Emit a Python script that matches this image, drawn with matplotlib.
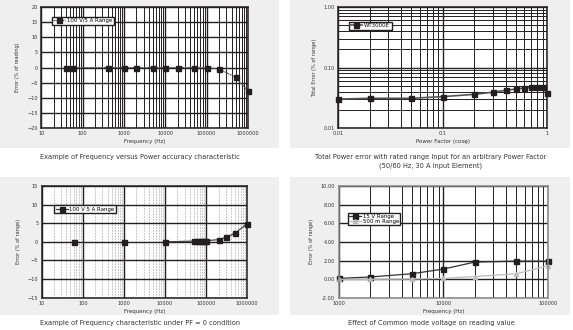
import matplotlib
matplotlib.use('Agg')
import matplotlib.pyplot as plt
from matplotlib.patches import Rectangle
from matplotlib.ticker import FixedLocator, NullFormatter, LogLocator

# --- data ---
freq_pw = [40, 60, 400, 1000, 2000, 5000, 10000, 20000, 50000, 100000, 200000, 500000, 1000000]
err_pw = [0, 0, 0, 0, 0, 0, 0, 0, 0, 0, -0.5, -3.2, -7.8]

pf = [0.01, 0.02, 0.05, 0.1, 0.2, 0.3, 0.4, 0.5, 0.6, 0.7, 0.8, 0.9, 1.0]
err_pf = [0.030, 0.031, 0.031, 0.033, 0.036, 0.039, 0.042, 0.044, 0.046, 0.047, 0.047, 0.047, 0.038]

freq_pf0 = [60, 1000, 10000, 50000, 60000, 70000, 80000, 90000, 100000, 200000, 300000, 500000, 1000000]
err_pf0 = [0, 0, 0, 0.2, 0.25, 0.3, 0.3, 0.3, 0.3, 0.6, 1.2, 2.3, 4.9]

freq_cm = [1000, 2000, 5000, 10000, 20000, 50000, 100000]
err_15v = [0.1, 0.25, 0.6, 1.1, 1.85, 1.95, 1.95]
err_500m = [0.0, 0.0, 0.03, 0.1, 0.3, 0.6, 1.45]

captions = ['Example of Frequency versus Power accuracy characteristic',
            'Total Power error with rated range Input for an arbitrary Power Factor\n(50/60 Hz, 30 A Input Element)',
            'Example of Frequency characteristic under PF = 0 condition',
            'Effect of Common mode voltage on reading value']

W, H = 573, 330
dark = '#231f20'
fs = 3.6
lfs = 3.9
cfs = 4.8
mk = dict(marker='s', ms=3.6, mfc=dark, mec=dark, clip_on=False)

fig = plt.figure(figsize=(W/100, H/100), dpi=100)
fig.patch.set_facecolor('white')

def box(x0, y0, x1, y1):
    fig.patches.append(Rectangle((x0/W, 1-y1/H), (x1-x0)/W, (y1-y0)/H,
                                 transform=fig.transFigure, facecolor='#efefef',
                                 edgecolor='none', zorder=-5))

def axes(x0, y0, x1, y1):
    ax = fig.add_axes([x0/W, 1-y1/H, (x1-x0)/W, (y1-y0)/H])
    ax.set_zorder(2)
    ax.set_facecolor('white')
    ax.tick_params(which='both', length=0, labelsize=fs, pad=2.5, colors='#333')
    for s in ax.spines.values():
        s.set_color(dark)
        s.set_linewidth(1.1)
    ax.set_axisbelow(True)
    return ax

box(0, 0, 279, 148)
box(290, 0, 570, 148)
box(0, 177, 279, 315)
box(290, 177, 570, 315)

dec_labels = ['10', '100', '1000', '10000', '100000', '1000000']
dec_vals = [10, 100, 1000, 10000, 100000, 1000000]

# panel 1
ax1 = axes(41.3, 7, 248, 128)
ax1.set_xscale('log')
ax1.set_xlim(10, 1000000)
ax1.set_ylim(-20, 20)
ax1.xaxis.set_major_locator(FixedLocator(dec_vals))
ax1.set_xticklabels(dec_labels)
ax1.xaxis.set_minor_locator(LogLocator(subs=range(2, 10)))
ax1.xaxis.set_minor_formatter(NullFormatter())
ax1.set_yticks(range(-20, 21, 5))
ax1.set_yticklabels([str(v).replace('-', '\u2212') for v in range(-20, 21, 5)])
ax1.grid(which='major', color=dark, lw=1.0)
ax1.grid(which='minor', axis='x', color=dark, lw=0.7)
ax1.plot(freq_pw, err_pw, color='#555', lw=0.8, ls=(0, (2, 0.6)), label='100 V/5 A Range', **mk)
ax1.set_xlabel('Frequency (Hz)', fontsize=fs+0.4, labelpad=2, color='#333')
ax1.set_ylabel('Error (% of reading)', fontsize=fs, labelpad=5, color='#333')
ax1.legend(loc='upper left', bbox_to_anchor=(0.05, 0.92), fontsize=lfs, frameon=True, fancybox=False,
           edgecolor=dark, framealpha=1, handlelength=2.2, borderpad=0.3, handletextpad=0.3,
           borderaxespad=0)

# panel 2
ax2 = axes(338.3, 7, 547.3, 128)
ax2.set_xscale('log')
ax2.set_yscale('log')
ax2.set_xlim(0.01, 1)
ax2.set_ylim(0.01, 1)
ax2.xaxis.set_major_locator(FixedLocator([0.01, 0.1, 1]))
ax2.set_xticklabels(['0.01', '0.1', '1'])
ax2.yaxis.set_major_locator(FixedLocator([0.01, 0.1, 1]))
ax2.set_yticklabels(['0.01', '0.10', '1.00'])
for a in (ax2.xaxis, ax2.yaxis):
    a.set_minor_locator(LogLocator(subs=range(2, 10)))
    a.set_minor_formatter(NullFormatter())
ax2.grid(which='major', color=dark, lw=1.0)
ax2.grid(which='minor', color=dark, lw=0.7)
ax2.plot(pf, err_pf, color='#555', lw=1.2, label='WT3000E', **mk)
ax2.set_xlabel('Power Factor (cos\u03c6)', fontsize=fs+0.4, labelpad=2, color='#333')
ax2.set_ylabel('Total Error (% of range)', fontsize=fs, labelpad=5, color='#333')
ax2.legend(loc='upper left', bbox_to_anchor=(0.05, 0.88), fontsize=lfs, frameon=True, fancybox=False,
           edgecolor=dark, framealpha=1, handlelength=2.2, borderpad=0.3, handletextpad=0.3,
           borderaxespad=0)

# panel 3
ax3 = axes(41.7, 186, 247.3, 297.7)
ax3.set_xscale('log')
ax3.set_xlim(10, 1000000)
ax3.set_ylim(-15, 15)
ax3.xaxis.set_major_locator(FixedLocator(dec_vals))
ax3.set_xticklabels(dec_labels)
ax3.xaxis.set_minor_locator(LogLocator(subs=range(2, 10)))
ax3.xaxis.set_minor_formatter(NullFormatter())
ax3.set_yticks(range(-15, 16, 5))
ax3.set_yticklabels([str(v).replace('-', '\u2212') for v in range(-15, 16, 5)])
ax3.grid(which='major', color=dark, lw=1.0)
ax3.grid(which='minor', axis='x', color='#aaa', lw=0.5, ls=(0, (2.5, 1.5)))
ax3.plot(freq_pf0[2:], err_pf0[2:], color='#444', lw=0.9, clip_on=False)
ax3.plot(freq_pf0, err_pf0, ls='none', **mk)
ax3.plot([], [], color='#444', lw=0.9, label='100 V 5 A Range', **mk)
ax3.set_xlabel('Frequency (Hz)', fontsize=fs+0.4, labelpad=2, color='#333')
ax3.set_ylabel('Error (% of range)', fontsize=fs, labelpad=5, color='#333')
ax3.legend(loc='upper left', bbox_to_anchor=(0.06, 0.83), fontsize=lfs, frameon=True, fancybox=False,
           edgecolor=dark, framealpha=1, handlelength=2.2, borderpad=0.3, handletextpad=0.3,
           borderaxespad=0)

# panel 4
ax4 = axes(338.7, 186, 548, 298)
ax4.set_xscale('log')
ax4.set_xlim(1000, 100000)
ax4.set_ylim(-2, 10)
ax4.xaxis.set_major_locator(FixedLocator([1000, 10000, 100000]))
ax4.set_xticklabels(['1000', '10000', '100000'])
ax4.xaxis.set_minor_locator(LogLocator(subs=range(2, 10)))
ax4.xaxis.set_minor_formatter(NullFormatter())
ax4.set_yticks(range(-2, 11, 2))
ax4.set_yticklabels(['%.2f' % v for v in range(-2, 11, 2)])
ax4.grid(which='major', color=dark, lw=1.0)
ax4.grid(which='minor', axis='x', color=dark, lw=0.7)
for s in ax4.spines.values():
    s.set_color('#888')
ax4.plot(freq_cm, err_15v, color='#333', lw=0.9, label='15 V Range', **mk)
ax4.plot(freq_cm, err_500m, color='#bbb', lw=0.9, marker='^', ms=3, mfc='#bbb', mec='#bbb',
         clip_on=False, label='500 m Range')
ax4.set_xlabel('Frequency (Hz)', fontsize=fs+0.4, labelpad=2, color='#333')
ax4.set_ylabel('Error (% of range)', fontsize=fs, labelpad=5, color='#333')
ax4.legend(loc='upper left', bbox_to_anchor=(0.045, 0.76), fontsize=lfs, frameon=True, fancybox=False,
           edgecolor=dark, framealpha=1, handlelength=2.2, borderpad=0.2, handletextpad=0.3,
           borderaxespad=0, labelspacing=0.05)

# captions
fig.text(140/W, 1-157/H, captions[0], ha='center', va='center', fontsize=cfs, color='#333')
fig.text(431/W, 1-161.5/H, captions[1], ha='center', va='center', fontsize=cfs, color='#333',
         linespacing=1.4)
fig.text(140/W, 1-323/H, captions[2], ha='center', va='center', fontsize=cfs, color='#333')
fig.text(431/W, 1-323/H, captions[3], ha='center', va='center', fontsize=cfs, color='#333')

fig.savefig('out.png', dpi=100)
